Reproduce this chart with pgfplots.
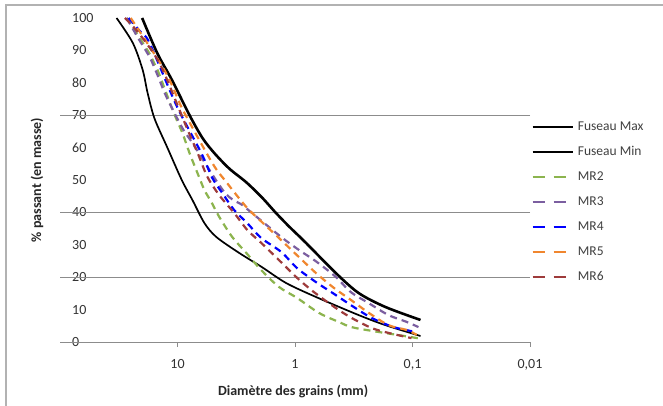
\documentclass[border=0pt]{standalone}
\usepackage{fontspec}
\setmainfont{Carlito}
\usepackage{pgfplots}
\pgfplotsset{compat=1.18}
\definecolor{cgreen}{HTML}{8CB44E}
\definecolor{cpurple}{HTML}{7B5EA0}
\definecolor{cblue}{HTML}{0000FF}
\definecolor{corange}{HTML}{F0862E}
\definecolor{cred}{HTML}{9E3B3B}
\definecolor{gridg}{HTML}{8C8C8C}
\begin{document}
\begin{tikzpicture}[x=1pt,y=1pt]
\useasboundingbox (0,0) rectangle (663,406);
\fill[white] (0,0) rectangle (663,406);
\draw[gray!60, line width=1.6pt] (6,0) -- (6,401) -- (663,401);
\begin{axis}[
  at={(60pt,64pt)}, anchor=south west,
  scale only axis, width=470pt, height=324pt,
  xmode=log, x dir=reverse,
  xmin=0.01, xmax=100, ymin=0, ymax=100,
  axis line style={draw=none},
  xtick={10,1,0.1,0.01}, xticklabels={10,1,{0,1},{0,01}},
  xminorticks=false,
  xtick pos=bottom, ytick pos=left,
  xtick style={draw=gridg, line width=0.8pt},
  tick align=outside, major tick length=5pt,
  ytick={0,10,...,100},
  ytick style={draw=none},
  yticklabel pos=left,
  yticklabel style={anchor=west, xshift=17pt, inner sep=0pt},
  xticklabel style={anchor=north, yshift=-9pt},
  tick label style={font=\fontsize{14}{16}\selectfont, text=black!80},
  /pgf/number format/assume math mode=true,
  extra y ticks={0,20,40,70}, extra y tick labels={},
  extra y tick style={grid=major, tick style={draw=none}},
  major grid style={draw=gridg, line width=0.9pt},
  xlabel={\bfseries Diamètre des grains (mm)},
  ylabel={\bfseries \% passant (en masse)},
  xlabel style={at={(axis description cs:0.496,-0.154)}, anchor=center, font=\fontsize{14}{16}\selectfont, text=black!85},
  ylabel style={at={(axis description cs:-0.049,0.5)}, anchor=center, font=\fontsize{14}{16}\selectfont, text=black!85},
  legend style={at={(axis description cs:0.996,0.69)}, anchor=north west, draw=none, fill=none,
    font=\fontsize{13.5}{15}\selectfont, text=black!75, row sep=12pt, column sep=4pt,
    nodes={inner sep=0pt, text height=10pt, text depth=3pt}},
  legend cell align=left,
  legend image code/.code={\draw[#1] (0pt,0pt) -- (40pt,0pt);},
  every axis plot/.append style={smooth, tension=0.5},
]
\addplot[black, line width=2.6pt] coordinates {
(20,100) (14.8,89) (11.2,81) (7.9,70) (6.14,63) (4.86,58.3) (3.62,53.5) (2.6,49.3)
(1.91,44.6) (1.45,39.8) (1.12,35.6) (0.807,30.6) (0.45,21.3) (0.287,15.1) (0.17,10.8) (0.0855,6.8)};
\addlegendentry{Fuseau Max}
\addplot[black, line width=1.7pt] coordinates {
(33,100) (24,92.3) (19.8,84) (18,77) (15.7,69) (12.2,60) (9.2,50) (7.46,43.8) (5.9,36.7)
(4.67,32.4) (2.99,27.5) (1.91,23.1) (1.19,18.2) (0.664,13.9) (0.287,8.3) (0.17,5.2) (0.0855,1.85)};
\addlegendentry{Fuseau Min}
\addplot[cgreen, line width=2.2pt, dash pattern=on 7pt off 5pt, legend image post style={dash pattern=on 12pt off 9pt}] coordinates {
(27,100) (17.3,89) (14.8,84) (11.0,71.6) (9.08,64.5) (7.9,58.3) (6.77,52.2) (5.9,46.9)
(5.15,43.2) (4.41,38.6) (3.42,32.4) (2.6,27.5) (1.94,22.2) (1.37,17) (0.96,13.6)
(0.627,9) (0.424,6.2) (0.304,4.3) (0.102,1.5) (0.0855,1)};
\addlegendentry{MR2}
\addplot[cpurple, line width=2.2pt, dash pattern=on 7pt off 5pt, legend image post style={dash pattern=on 12pt off 9pt}] coordinates {
(27,100) (21.8,94) (17.3,88) (14.8,82.4) (12.4,75.6) (9.08,66) (7.46,61.4) (4.0,46.3)
(2.81,42.3) (2.45,40.5) (1.31,32.4) (0.925,28.4) (0.652,24.7) (0.45,20.1) (0.335,15.4)
(0.236,12) (0.16,8.3) (0.112,6.2) (0.089,4.6)};
\addlegendentry{MR3}
\addplot[cblue, line width=2.2pt, dash pattern=on 7pt off 5pt, legend image post style={dash pattern=on 12pt off 9pt}] coordinates {
(26,100) (21,96) (17.3,92.3) (10.2,73) (6.27,58.3) (5.05,50.6) (4.16,46) (3.29,40.7)
(2.55,36.7) (1.94,32.1) (1.31,27.8) (0.96,22.8) (0.664,18.5) (0.45,14.5) (0.316,10.8)
(0.222,7.4) (0.145,4.6) (0.094,3.1)};
\addlegendentry{MR4}
\addplot[corange, line width=2.2pt, dash pattern=on 7pt off 5pt, legend image post style={dash pattern=on 12pt off 9pt}] coordinates {
(25,100) (14.2,86.4) (11.7,80.9) (10,75.3) (8.73,70.7) (5.05,55.2) (3.85,49.4) (2.6,41.7)
(1.91,37) (1.37,32.1) (0.925,26.2) (0.664,21.3) (0.467,16.7) (0.335,13)
(0.236,9) (0.16,5.2) (0.112,3.7) (0.092,2.2)};
\addlegendentry{MR5}
\addplot[cred, line width=2.2pt, dash pattern=on 7pt off 5pt, legend image post style={dash pattern=on 12pt off 9pt}] coordinates {
(28,100) (21,95) (14.2,86) (9.62,71.6) (8.4,66.4) (6.77,58.5) (5.57,51) (4.41,45.3)
(3.29,39.8) (2.55,34.6) (1.94,30.6) (1.37,25.3) (0.96,19.8) (0.69,15.4) (0.45,10.5)
(0.329,7.4) (0.222,4.3) (0.16,2.8) (0.102,1.2)};
\addlegendentry{MR6}
\end{axis}
\end{tikzpicture}
\end{document}
